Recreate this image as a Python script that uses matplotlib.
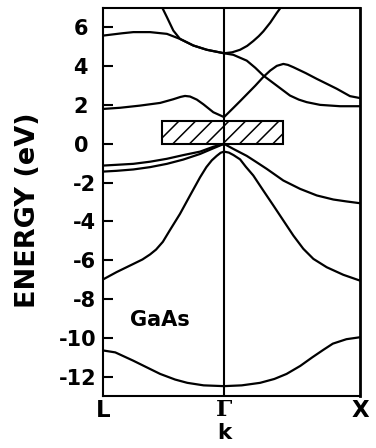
import matplotlib
matplotlib.use("Agg")
import matplotlib.pyplot as plt
from matplotlib.patches import Rectangle
from matplotlib.transforms import ScaledTranslation

# wave vector: L at -0.89, Gamma at 0, X at 1
# lowest (s-like) valence band
k_s = [-0.89, -0.80, -0.67, -0.56, -0.47, -0.36, -0.27, -0.15, 0.0, 0.13, 0.265,
       0.37, 0.46, 0.56, 0.65, 0.73, 0.80, 0.90, 1.0]
e_s = [-10.65, -10.75, -11.17, -11.55, -11.86, -12.15, -12.32, -12.45, -12.49, -12.45,
       -12.32, -12.12, -11.86, -11.45, -11.0, -10.62, -10.3, -10.07, -9.97]

# split-off / bell shaped valence band
k_so = [-0.89, -0.79, -0.667, -0.60, -0.544, -0.50, -0.45, -0.40, -0.324, -0.25,
        -0.176, -0.13, -0.09, -0.054, -0.025, 0.0, 0.035, 0.07, 0.118, 0.16, 0.215,
        0.289, 0.363, 0.436, 0.51, 0.583, 0.657, 0.755, 0.877, 1.0]
e_so = [-6.99, -6.61, -6.19, -5.96, -5.70, -5.45, -5.05, -4.47, -3.61, -2.66, -1.72,
        -1.20, -0.85, -0.62, -0.46, -0.40, -0.45, -0.58, -0.80, -1.18, -1.63, -2.41,
        -3.18, -3.95, -4.73, -5.41, -5.93, -6.36, -6.75, -7.05]

# heavy hole band
k_hh = [-0.89, -0.79, -0.667, -0.544, -0.42, -0.30, -0.176, -0.079, 0.0, 0.068, 0.167,
        0.24, 0.314, 0.436, 0.559, 0.682, 0.804, 0.902, 1.0]
e_hh = [-1.12, -1.08, -1.03, -0.92, -0.77, -0.58, -0.40, -0.15, 0.0, -0.26, -0.62,
        -0.95, -1.29, -1.89, -2.32, -2.66, -2.87, -2.97, -3.06]

# light hole band (L to Gamma)
k_lh = [-0.89, -0.79, -0.667, -0.544, -0.42, -0.30, -0.176, -0.079, 0.0]
e_lh = [-1.43, -1.39, -1.32, -1.2, -1.03, -0.81, -0.52, -0.23, 0.0]

# conduction bands
k_c1 = [-0.89, -0.765, -0.62, -0.47, -0.373, -0.32, -0.287, -0.25, -0.20, -0.152,
        -0.079, 0.0, 0.068, 0.118, 0.167, 0.23, 0.289, 0.34, 0.388, 0.436, 0.47, 0.51,
        0.60, 0.682, 0.76, 0.829, 0.926, 1.0]
e_c1 = [1.80, 1.86, 1.97, 2.11, 2.30, 2.42, 2.47, 2.44, 2.28, 2.04, 1.63, 1.38, 1.85,
        2.2, 2.55, 3.0, 3.45, 3.78, 4.02, 4.12, 4.07, 3.95, 3.65, 3.35, 3.08, 2.84,
        2.46, 2.36]

k_c2 = [-0.89, -0.75, -0.667, -0.544, -0.42, -0.324, -0.226, -0.127, 0.0, 0.068, 0.167,
        0.23, 0.289, 0.388, 0.485, 0.55, 0.608, 0.706, 0.853, 1.0]
e_c2 = [5.58, 5.70, 5.76, 5.76, 5.67, 5.41, 5.07, 4.85, 4.67, 4.59, 4.29, 3.92, 3.52,
        3.0, 2.49, 2.28, 2.15, 2.01, 1.94, 1.94]

k_c3 = [-0.46, -0.42, -0.373, -0.324, -0.226, -0.127, 0.0, 0.06, 0.118, 0.17, 0.215,
        0.255, 0.289, 0.34, 0.388, 0.43]
e_c3 = [7.1, 6.53, 5.84, 5.41, 5.07, 4.85, 4.67, 4.72, 4.85, 5.05, 5.3, 5.55, 5.8,
        6.25, 6.75, 7.15]

bands = [(k_s, e_s), (k_so, e_so), (k_hh, e_hh), (k_lh, e_lh),
         (k_c1, e_c1), (k_c2, e_c2), (k_c3, e_c3)]

# hatched gap box
gap_k = [-0.456, 0.434]
gap_e = [0.0, 1.2]

k_ticks = [-0.89, 0.0, 1.0]
k_labels = ["L", "\u0393", "X"]
e_ticks = [-12, -10, -8, -6, -4, -2, 0, 2, 4, 6]
e_labels = ["-12", "-10", "-8", "-6", "-4", "-2", "0", "2", "4", "6"]

plt.rcParams["font.family"] = ["DejaVu Sans"]
plt.rcParams["font.weight"] = "bold"
plt.rcParams["axes.labelweight"] = "bold"
plt.rcParams["hatch.linewidth"] = 1.1

fig = plt.figure(figsize=(3.76, 4.48), dpi=100)
ax = fig.add_axes([0.274, 0.116, 0.6835, 0.866])

for k, e in bands:
    ax.plot(k, e, color="black", lw=1.6, solid_joinstyle="round", zorder=2)

ax.add_patch(Rectangle((gap_k[0], gap_e[0]), gap_k[1] - gap_k[0], gap_e[1] - gap_e[0],
                       facecolor="white", edgecolor="black", hatch="//", lw=1.5, zorder=3))
ax.axvline(0.0, color="black", lw=1.5, zorder=4)

ax.set_xlim(k_ticks[0], k_ticks[-1])
ax.set_ylim(-13, 7)

ax.set_xticks(k_ticks)
ax.set_xticklabels(k_labels, fontsize=16.5)
ax.get_xticklabels()[1].set_family("DejaVu Serif")
ax.set_yticks(e_ticks)
ax.set_yticklabels(e_labels, fontsize=15)

ax.tick_params(axis="x", length=0, pad=2)
ax.tick_params(axis="y", direction="in", length=7, width=1.5, pad=5)

# shift the non-negative labels a little to the left
shift = ScaledTranslation(-0.08, 0, fig.dpi_scale_trans)
for val, lab in zip(e_ticks, ax.get_yticklabels()):
    if val >= 0:
        lab.set_transform(lab.get_transform() + shift)

for side in ["left", "top", "bottom"]:
    ax.spines[side].set_linewidth(1.5)
ax.spines["right"].set_linewidth(2.0)

ax.set_ylabel("ENERGY (eV)", fontsize=19.5, fontweight="bold")
ax.yaxis.set_label_coords(-0.24, 0.479)
ax.set_xlabel("k", fontsize=15.5, fontweight="bold")
ax.xaxis.set_label_coords(0.471, -0.069)

ax.text(-0.69, -9.38, "GaAs", fontsize=15, fontweight="bold", ha="left", va="baseline")

fig.savefig("out.png", dpi=100)
